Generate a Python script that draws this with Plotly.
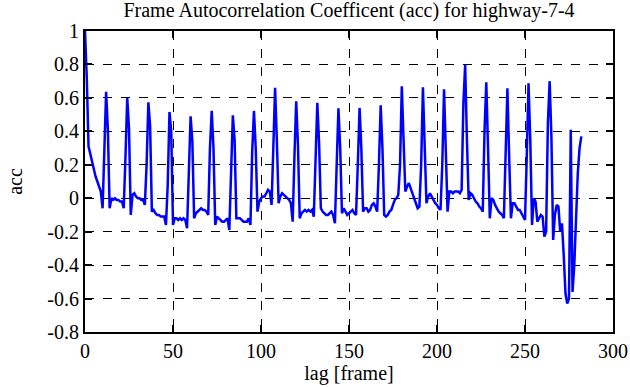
import plotly.graph_objects as go

title_text = "Frame Autocorrelation Coefficent (acc) for highway-7-4"
x_label = "lag [frame]"
y_label = "acc"

# acc values for lag = 0 .. 282
acc = [
    1.00, 0.72, 0.31, 0.26, 0.21, 0.17, 0.13, 0.10, 0.07, 0.04,    # 0-9
    -0.06, 0.30, 0.636, 0.41, -0.06, 0.00, -0.01, 0.00, -0.01, -0.01,  # 10-19
    -0.02, -0.02, -0.06, 0.25, 0.60, 0.42, -0.10, 0.02, 0.03, 0.01,   # 20-29
    0.00, 0.00, -0.01, -0.01, -0.04, 0.20, 0.574, 0.43, -0.08, -0.07,  # 30-39
    -0.09, -0.10, -0.10, -0.11, -0.11, -0.11, -0.16, 0.08, 0.516, 0.40,  # 40-49
    -0.16, -0.12, -0.12, -0.13, -0.12, -0.13, -0.12, -0.13, -0.18, 0.20,  # 50-59
    0.49, 0.34, -0.12, -0.09, -0.08, -0.07, -0.06, -0.07, -0.07, -0.08,  # 60-69
    -0.10, 0.30, 0.522, 0.30, -0.16, -0.11, -0.12, -0.13, -0.14, -0.14,  # 70-79
    -0.13, -0.12, -0.19, 0.22, 0.496, 0.35, -0.12, -0.12, -0.12, -0.13,  # 80-89
    -0.14, -0.14, -0.14, -0.12, -0.16, 0.28, 0.522, 0.30, -0.08, -0.02,  # 90-99
    0.00, 0.01, 0.01, 0.03, 0.05, 0.04, -0.04, 0.30, 0.66, 0.35,      # 100-109
    -0.03, 0.01, 0.03, 0.02, 0.01, 0.00, -0.01, -0.03, -0.14, 0.25,    # 110-119
    0.58, 0.32, -0.12, -0.09, -0.08, -0.07, -0.08, -0.07, -0.08, -0.07,  # 120-129
    -0.11, 0.20, 0.57, 0.33, -0.06, -0.08, -0.09, -0.10, -0.10, -0.09,  # 130-139
    -0.08, -0.10, -0.15, 0.20, 0.538, 0.30, -0.09, -0.06, -0.08, -0.10,  # 140-149
    -0.09, -0.08, -0.07, -0.09, -0.10, 0.20, 0.54, 0.30, -0.08, -0.06,  # 150-159
    -0.06, -0.08, -0.07, -0.04, -0.03, -0.05, -0.08, 0.20, 0.556, 0.30,  # 160-169
    -0.10, -0.11, -0.10, -0.08, -0.07, -0.04, -0.01, 0.00, 0.02, 0.20,  # 170-179
    0.67, 0.35, 0.04, 0.07, 0.09, 0.06, 0.03, 0.00, -0.03, -0.06,      # 180-189
    -0.05, 0.20, 0.664, 0.30, -0.03, 0.01, 0.03, 0.01, -0.01, -0.03,   # 190-199
    -0.04, -0.06, -0.07, 0.20, 0.652, 0.30, -0.08, 0.04, 0.04, 0.03,   # 200-209
    0.04, 0.04, 0.04, 0.03, 0.05, 0.57, 0.796, 0.35, -0.01, 0.03,      # 210-219
    0.02, 0.00, -0.02, -0.03, -0.05, -0.06, -0.08, 0.40, 0.694, 0.30,  # 220-229
    -0.12, 0.00, -0.01, -0.04, -0.06, -0.08, -0.09, -0.10, -0.12, 0.30,  # 230-239
    0.658, 0.25, -0.12, -0.03, -0.03, -0.05, -0.07, -0.07, -0.09, -0.11,  # 240-249
    -0.13, 0.25, 0.688, 0.35, -0.16, 0.00, -0.02, -0.14, -0.12, -0.10,  # 250-259
    -0.11, -0.23, -0.20, 0.45, 0.70, 0.37, -0.25, -0.10, -0.04, -0.05,  # 260-269
    -0.20, -0.15, -0.34, -0.57, -0.63, -0.60, 0.41, -0.56, -0.40, -0.10,  # 270-279
    0.15, 0.30, 0.37,                                                 # 280-282
]
lags = list(range(len(acc)))

x_ticks = [0, 50, 100, 150, 200, 250, 300]
y_ticks = [1, 0.8, 0.6, 0.4, 0.2, 0, -0.2, -0.4, -0.6, -0.8]
y_tick_text = ["1", "0.8", "0.6", "0.4", "0.2", "0", "-0.2", "-0.4", "-0.6", "-0.8"]

FONT = "Liberation Serif, Times New Roman, serif"

fig = go.Figure()
fig.add_trace(go.Scatter(
    x=lags, y=acc, mode="lines",
    line=dict(color="#0000ff", width=2.5),
    showlegend=False,
))

axis_common = dict(
    showline=True, linecolor="black", linewidth=2, mirror="ticks",
    ticks="inside", ticklen=7, tickwidth=1.5, tickcolor="black",
    showgrid=True, gridcolor="black", gridwidth=1, griddash="dash",
    zeroline=False,
    tickfont=dict(family=FONT, size=20, color="black"),
)

fig.update_layout(
    width=630, height=387,
    font=dict(family=FONT, size=20, color="black"),
    margin=dict(l=85, r=17, t=31, b=55, autoexpand=False),
    paper_bgcolor="white", plot_bgcolor="white",
    title=dict(text=title_text, x=0.554, xanchor="center", y=0.975, yanchor="middle",
               font=dict(family=FONT, size=20, color="black")),
    xaxis=dict(range=[0, 300], tickvals=x_ticks, ticktext=[str(v) for v in x_ticks],
               title=dict(text=x_label, font=dict(family=FONT, size=20, color="black"), standoff=4),
               **axis_common),
    yaxis=dict(range=[-0.8, 1], tickvals=y_ticks, ticktext=y_tick_text,
               title=dict(text=y_label, font=dict(family=FONT, size=20, color="black"), standoff=19),
               **axis_common),
)

fig.write_html("out.html", config={"displayModeBar": False},
               post_script="document.body.style.margin='0';")
